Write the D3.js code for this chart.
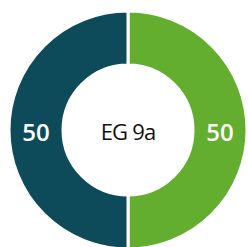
<!DOCTYPE html>
<html><head><meta charset="utf-8">
<script src="https://cdn.jsdelivr.net/npm/d3@7"></script>
<style>html,body{margin:0;padding:0;background:#fff;}svg{display:block;}</style>
</head><body>
<script>
const categories = ["Right", "Left"];
const values = [50, 50];
const colors = ["#63ae2f", "#0e4b5a"];
const centerLabel = "EG 9a";

const W = 248, H = 247;
const cx = 128, cy = 130, outerR = 119, innerR = 65;
const svg = d3.select("body").append("svg").attr("width", W).attr("height", H);
const g = svg.append("g").attr("transform", `translate(${cx},${cy})`);
const pie = d3.pie().sort(null).value(d => d.v);
const data = pie(categories.map((c, i) => ({c, v: values[i], col: colors[i]})));
const arc = d3.arc().innerRadius(innerR).outerRadius(outerR);
g.selectAll("path").data(data).join("path")
  .attr("d", arc).attr("fill", d => d.data.col)
  .attr("stroke", "#fff").attr("stroke-width", 3);
const labelArc = d3.arc().innerRadius((innerR + outerR) / 2).outerRadius((innerR + outerR) / 2);
g.selectAll("text.v").data(data).join("text").attr("class", "v")
  .attr("x", d => labelArc.centroid(d)[0]).attr("y", d => labelArc.centroid(d)[1] + 1)
  .attr("text-anchor", "middle").attr("dominant-baseline", "central")
  .attr("fill", "#fff").attr("font-family", "Open Sans, sans-serif")
  .attr("font-weight", 600).attr("font-size", 24)
  .text(d => d.data.v);
g.append("text").attr("text-anchor", "middle").attr("dominant-baseline", "central")
  .attr("y", 1).attr("fill", "#111").attr("font-family", "Open Sans, sans-serif")
  .attr("font-size", 22).attr("letter-spacing", -0.8).text(centerLabel);
</script>
</body></html>
